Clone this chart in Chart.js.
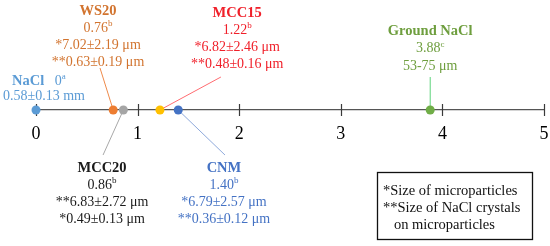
<!DOCTYPE html>
<html>
<head>
<meta charset="utf-8">
<script src="https://cdn.jsdelivr.net/npm/chart.js@4.4.1/dist/chart.umd.min.js"></script>
<style>
  html, body { margin: 0; padding: 0; background: #fff; }
  #wrap { width: 550px; height: 246px; position: relative; }
</style>
</head>
<body>
<div id="wrap"><canvas id="c"></canvas></div>
<script>
// ---- data ----
const samples = ['NaCl', 'WS20', 'MCC20', 'MCC15', 'CNM', 'Ground NaCl'];
const meanValues = [0, 0.76, 0.86, 1.22, 1.40, 3.88];
const groupLetters = ['a', 'b', 'b', 'b', 'b', 'c'];
const sizeText = [
  ['0.58±0.13 mm'],
  ['*7.02±2.19 μm', '**0.63±0.19 μm'],
  ['**6.83±2.72 μm', '*0.49±0.13 μm'],
  ['*6.82±2.46 μm', '**0.48±0.16 μm'],
  ['*6.79±2.57 μm', '**0.36±0.12 μm'],
  ['53-75 μm']
];
const tickLabels = ['0', '1', '2', '3', '4', '5'];
const noteLines = ['*Size of microparticles', '**Size of NaCl crystals', '   on microparticles'];

// ---- styles / layout ----
const pointColors = ['#5B9BD5', '#ED7D31', '#A5A5A5', '#FFC000', '#4472C4', '#70AD47'];
const textColors  = ['#5B9BD5', '#D2742F', '#1a1a1a', '#F0202A', '#4472C4', '#6E9E3E'];
const leaderColors = [null, '#EE8A4A', '#A8A8A8', '#FF6B70', '#8EA9DB', '#5ED47C'];
// label block: center x (axis units), first line y (px), line step, leader end (axis units, px)
const blockLayout = [
  null,
  { cx: 0.61, y0: 10, step: 17, lx: 0.63, ly: 68 },
  { cx: 0.65, y0: 167, step: 17, lx: 0.66, ly: 155 },
  { cx: 1.98, y0: 12, step: 17, lx: 1.82, ly: 77 },
  { cx: 1.85, y0: 167, step: 17, lx: 1.86, ly: 155 },
  { cx: 3.88, y0: 30, step: 17.5, lx: 3.88, ly: 77 }
];
const FONT = "'Liberation Serif', 'Times New Roman', serif";
const BASE = 14;
const TITLE = 14.5;

function fmt(v) { return v === 0 ? '0' : v.toFixed(2); }

function richWidth(ctx, parts) {
  let w = 0;
  for (const p of parts) { ctx.font = p.font; w += ctx.measureText(p.text).width; }
  return w;
}
function drawRich(ctx, parts, x, yc, align, color) {
  const w = richWidth(ctx, parts);
  let cx = align === 'center' ? x - w / 2 : x;
  ctx.textBaseline = 'alphabetic';
  ctx.textAlign = 'left';
  ctx.fillStyle = color;
  for (const p of parts) {
    ctx.font = p.font;
    ctx.fillText(p.text, cx, yc + 0.34 * BASE - (p.sup ? 0.38 * BASE : 0));
    cx += ctx.measureText(p.text).width;
  }
}
const fBase = () => `${BASE}px ${FONT}`;
const fBold = () => `bold ${TITLE}px ${FONT}`;
const fSup = () => `${Math.round(BASE * 0.62)}px ${FONT}`;

const axisDecor = {
  id: 'axisDecor',
  beforeDatasetsDraw(chart) {
    const ctx = chart.ctx;
    const xs = chart.scales.x, ys = chart.scales.y;
    const y0 = ys.getPixelForValue(0);
    ctx.save();
    // crossing tick marks
    ctx.strokeStyle = '#3a3a3a';
    ctx.lineWidth = 1.2;
    tickLabels.forEach((t, i) => {
      const px = Math.round(xs.getPixelForValue(i)) + 0.5;
      ctx.beginPath(); ctx.moveTo(px, y0 - 6); ctx.lineTo(px, y0 + 6); ctx.stroke();
    });
    // leader lines
    ctx.lineWidth = 1;
    meanValues.forEach((v, i) => {
      const L = blockLayout[i];
      if (!L) return;
      ctx.strokeStyle = leaderColors[i];
      ctx.beginPath();
      ctx.moveTo(xs.getPixelForValue(v), y0);
      ctx.lineTo(xs.getPixelForValue(L.lx), L.ly);
      ctx.stroke();
    });
    ctx.restore();
  },
  afterDraw(chart) {
    const ctx = chart.ctx;
    const xs = chart.scales.x;
    ctx.save();
    // NaCl block
    drawRich(ctx, [
      { text: samples[0], font: fBold() },
      { text: '   ' + fmt(meanValues[0]), font: fBase() },
      { text: groupLetters[0], font: fSup(), sup: true }
    ], 12, 80, 'left', textColors[0]);
    drawRich(ctx, [{ text: sizeText[0][0], font: fBase() }], 3, 95, 'left', textColors[0]);
    // other blocks
    meanValues.forEach((v, i) => {
      const L = blockLayout[i];
      if (!L) return;
      const cx = xs.getPixelForValue(L.cx);
      let y = L.y0;
      drawRich(ctx, [{ text: samples[i], font: fBold() }], cx, y, 'center', textColors[i]);
      y += L.step;
      drawRich(ctx, [
        { text: fmt(v), font: fBase() },
        { text: groupLetters[i], font: fSup(), sup: true }
      ], cx, y, 'center', textColors[i]);
      sizeText[i].forEach(s => {
        y += L.step;
        drawRich(ctx, [{ text: s, font: fBase() }], cx, y, 'center', textColors[i]);
      });
    });
    // note box
    ctx.fillStyle = '#fff';
    ctx.fillRect(377, 172, 156, 68);
    ctx.strokeStyle = '#111';
    ctx.lineWidth = 1.3;
    ctx.strokeRect(377.5, 172.5, 155, 67);
    noteLines.forEach((s, k) => {
      drawRich(ctx, [{ text: s, font: `14.5px ${FONT}` }], 383, 190 + k * 17, 'left', '#111');
    });
    ctx.restore();
  }
};

new Chart(document.getElementById('c'), {
  type: 'scatter',
  data: {
    datasets: [{
      data: meanValues.map(v => ({ x: v, y: 0 })),
      pointRadius: 4.5,
      pointHoverRadius: 4.5,
      pointBackgroundColor: pointColors,
      pointBorderColor: pointColors,
      pointBorderWidth: 0,
      clip: false
    }]
  },
  options: {
    responsive: true,
    maintainAspectRatio: false,
    animation: false,
    events: [],
    layout: { padding: { left: 36, right: 6, top: 0, bottom: 0 } },
    plugins: { legend: { display: false }, tooltip: { enabled: false } },
    scales: {
      x: {
        type: 'linear',
        position: 'bottom',
        min: 0, max: 5,
        border: { display: true, color: '#555', width: 1.3 },
        grid: {
          display: true,
          drawOnChartArea: false,
          drawTicks: true,
          tickLength: 13,
          tickColor: 'rgba(0,0,0,0)'
        },
        ticks: {
          stepSize: 1,
          padding: 0,
          color: '#000',
          font: { family: FONT, size: 18 },
          callback: v => tickLabels[v]
        },
        afterFit: s => { s.height = 136; }
      },
      y: { display: false, min: 0, max: 1 }
    }
  },
  plugins: [axisDecor]
});
</script>
</body>
</html>
